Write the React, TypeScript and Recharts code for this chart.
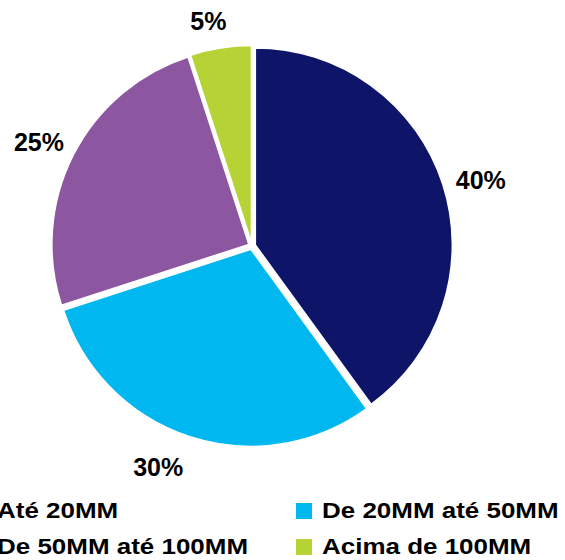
import React from "react";
import { PieChart, Pie, Cell, Sector } from "recharts";

const CATEGORIES = ["Até 20MM", "De 20MM até 50MM", "De 50MM até 100MM", "Acima de 100MM"];
const SHARES = [40, 30, 25, 5];
const COLORS = ["#0E1468", "#00B7F0", "#8C56A0", "#B5D334"];

const FONT = '"Liberation Sans", Arial, sans-serif';
const RADIAN = Math.PI / 180;
const EXPLODE = 3.5;
// Excel nudged a couple of the outside labels by hand; [extra radius, angle shift]
const LABEL_NUDGE: [number, number][] = [
  [41, -2],
  [43, -5],
  [40, 1],
  [32, 2],
];

const rows = CATEGORIES.map((name, i) => ({ name, value: SHARES[i] }));

function ExplodedSector(props: any) {
  const { cx, cy, midAngle } = props;
  const dx = EXPLODE * Math.cos(-midAngle * RADIAN);
  const dy = EXPLODE * Math.sin(-midAngle * RADIAN);
  return <Sector {...props} cx={cx + dx} cy={cy + dy} />;
}

function renderLabel(props: any) {
  const { cx, cy, midAngle, outerRadius, index, value } = props;
  const [gap, shift] = LABEL_NUDGE[index] ?? [40, 0];
  const a = (midAngle + shift) * RADIAN;
  const r = outerRadius + gap;
  return (
    <text
      x={cx + r * Math.cos(-a)}
      y={cy + r * Math.sin(-a)}
      textAnchor="middle"
      dominantBaseline="central"
      fill="#000"
      fontFamily={FONT}
      fontWeight={700}
      fontSize={25}
    >
      {`${value}%`}
    </text>
  );
}

export default function App() {
  return (
    <div
      style={{
        position: "absolute",
        left: 0,
        top: 0,
        width: 565,
        height: 560,
        overflow: "hidden",
        background: "#fff",
        fontFamily: FONT,
      }}
    >
      <PieChart width={565} height={560} margin={{ top: 0, right: 0, bottom: 0, left: 0 }}>
        <Pie
          data={rows}
          dataKey="value"
          nameKey="name"
          cx={252}
          cy={246}
          outerRadius={197}
          startAngle={90}
          endAngle={-270}
          stroke="#fff"
          strokeWidth={1.5}
          shape={ExplodedSector}
          label={renderLabel}
          labelLine={false}
          isAnimationActive={false}
        >
          {rows.map((r, i) => (
            <Cell key={r.name} fill={COLORS[i]} />
          ))}
        </Pie>
      </PieChart>

      {/* legend: the left column sits partly off the page in the original */}
      <div
        style={{
          position: "absolute",
          left: -29,
          top: 499,
          display: "grid",
          gridTemplateColumns: "325px 260px",
          rowGap: 12,
        }}
      >
        {[0, 1, 2, 3].map((i) => (
          <div key={i} style={{ display: "flex", alignItems: "center", height: 24, whiteSpace: "nowrap" }}>
            <span style={{ width: 16, height: 16, background: COLORS[i], marginRight: 10, flex: "none" }} />
            <span
              style={{
                fontSize: 22,
                lineHeight: "24px",
                fontWeight: 700,
                color: "#000",
                display: "inline-block",
                transform: "scaleX(1.18)",
                transformOrigin: "left center",
              }}
            >
              {CATEGORIES[i]}
            </span>
          </div>
        ))}
      </div>
    </div>
  );
}
